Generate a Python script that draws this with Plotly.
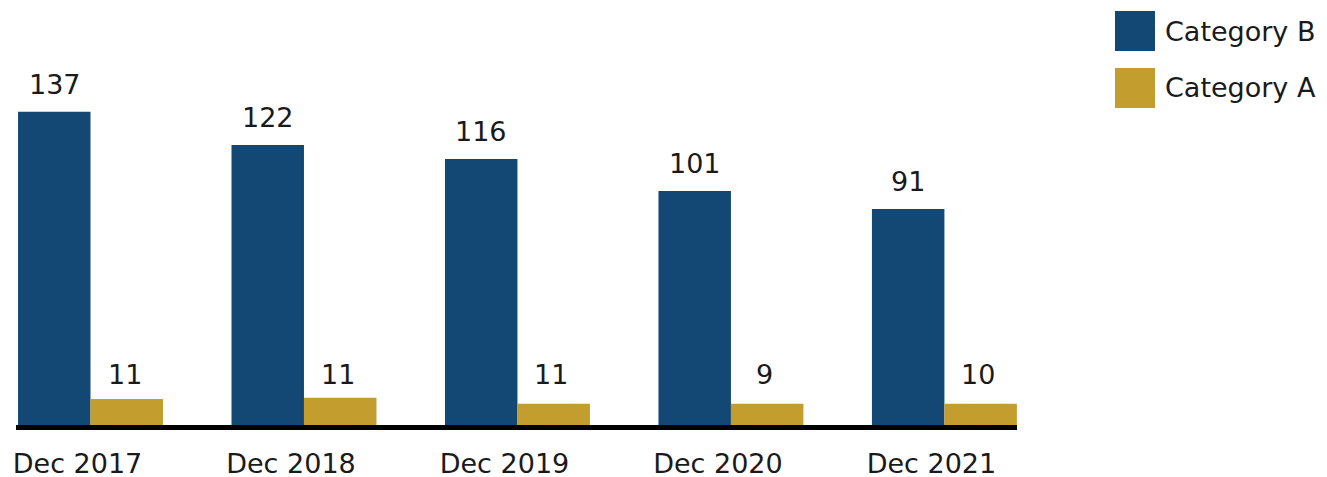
"""
分组柱状图：Category B / Category A 年末对比
"""
import plotly.graph_objects as go

# 数据
periods = ["Dec 2017", "Dec 2018", "Dec 2019", "Dec 2020", "Dec 2021"]
cat_b_values = [137.0, 122.4, 116.3, 102.3, 94.4]
cat_a_values = [11.4, 11.9, 9.3, 9.3, 9.3]
cat_b_labels = ["137", "122", "116", "101", "91"]
cat_a_labels = ["11", "11", "11", "9", "10"]

BLUE = "#134875"
GOLD = "#C39E2E"
TEXT = "#1a1a1a"
FONT = "DejaVu Sans"
FS = 27

# 页面 body 默认有 8px 外边距，图按扣掉后的尺寸画
PAD = 8
W, H = 1327 - PAD, 477 - PAD


def px_x(v):
    return (v - PAD) / W


def px_y(v):
    return 1 - (v - PAD) / H


fig = go.Figure()

fig.add_trace(go.Bar(
    x=periods, y=cat_b_values, name="Category B",
    marker_color=BLUE, marker_line_width=0,
))
fig.add_trace(go.Bar(
    x=periods, y=cat_a_values, name="Category A",
    marker_color=GOLD, marker_line_width=0,
))

# 数值标签：B 贴着各自柱顶，A 统一对齐在最高的 A 柱上方
for p, v, t in zip(periods, cat_b_values, cat_b_labels):
    fig.add_annotation(
        x=p, y=v, text=t, showarrow=False,
        xanchor="center", yanchor="bottom", xshift=-36, yshift=10,
        font=dict(size=FS, color=TEXT, family=FONT),
    )
for p, t in zip(periods, cat_a_labels):
    fig.add_annotation(
        x=p, y=max(cat_a_values), text=t, showarrow=False,
        xanchor="center", yanchor="bottom", xshift=34, yshift=6,
        font=dict(size=FS, color=TEXT, family=FONT),
    )

# 手动图例（大方块）
legend_items = [("Category B", BLUE, 11, 51), ("Category A", GOLD, 68, 108)]
for label, color, top, bottom in legend_items:
    fig.add_shape(
        type="rect", xref="paper", yref="paper",
        x0=px_x(1115), x1=px_x(1155), y0=px_y(bottom), y1=px_y(top),
        fillcolor=color, line_width=0,
    )
    fig.add_annotation(
        xref="paper", yref="paper", x=px_x(1163), y=px_y((top + bottom) / 2),
        text=label, showarrow=False, xanchor="left", yanchor="middle",
        font=dict(size=FS, color=TEXT, family=FONT),
    )

fig.update_layout(
    width=W, height=H,
    margin=dict(l=0, r=0, t=0, b=0),
    barmode="group",
    bargap=0.321,
    bargroupgap=0,
    showlegend=False,
    paper_bgcolor="white",
    plot_bgcolor="white",
    font=dict(family=FONT, size=FS, color=TEXT),
)
fig.update_xaxes(
    domain=[px_x(16), px_x(1017)],
    range=[-0.349, 4.34],
    showline=True, linecolor="black", linewidth=5,
    showgrid=False, ticks="", automargin=False,
    tickfont=dict(size=FS, color=TEXT, family=FONT),
    ticklabelshift=-13, ticklabelstandoff=11,
)
# 柱底 425px，比例约 2.287 px/单位
fig.update_yaxes(
    domain=[px_y(425), px_y(425 - 180 * 2.287)],
    range=[0, 180],
    visible=False, showgrid=False, zeroline=False, automargin=False,
)

fig.write_html("out.html")
